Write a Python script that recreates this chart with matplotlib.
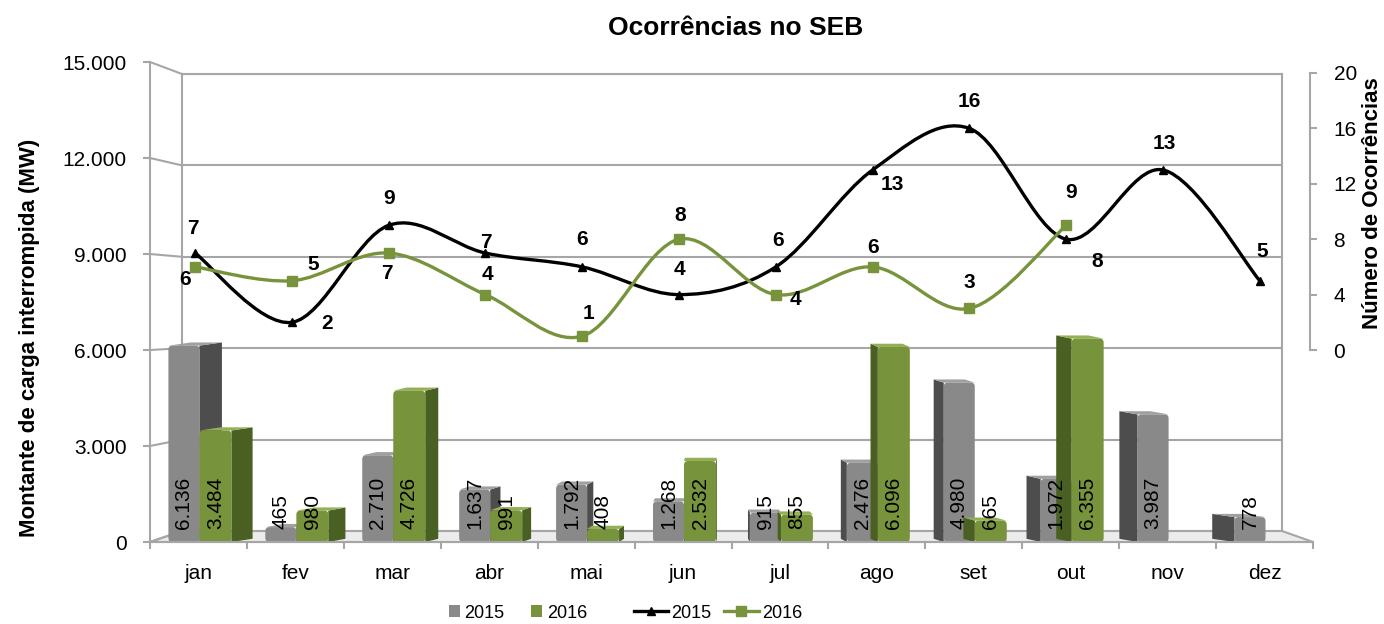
import matplotlib
matplotlib.use("Agg")
import matplotlib.pyplot as plt
import numpy as np
from matplotlib import font_manager
from matplotlib.patches import Polygon, Rectangle, PathPatch, FancyBboxPatch
from matplotlib.path import Path
from matplotlib.lines import Line2D
from matplotlib.ticker import FuncFormatter

months = ["jan", "fev", "mar", "abr", "mai", "jun", "jul", "ago", "set", "out", "nov", "dez"]
carga_2015 = [6136, 465, 2710, 1637, 1792, 1268, 915, 2476, 4980, 1972, 3987, 778]
carga_2016 = [3484, 980, 4726, 991, 408, 2532, 855, 6096, 665, 6355]
ocorr_2015 = [7, 2, 9, 7, 6, 4, 6, 13, 16, 8, 13, 5]
ocorr_2016 = [6, 5, 7, 4, 1, 8, 4, 6, 3, 9]

# where each point label sits relative to its marker (pixels)
off_2015 = [(-2, 25), (35, -1), (0, 27), (0, 11), (0, 27), (0, 25),
            (2, 26), (20, -15), (0, 27), (31, -22), (1, 26), (2, 29)]
off_2016 = [(-10, -13), (21, 16), (-2, -20), (2, 20), (6, 23), (1, 24),
            (20, -5), (0, 19), (0, 26), (5, 33)]

names = {f.name for f in font_manager.fontManager.ttflist}
if "Liberation Sans Narrow" in names:
    plt.rcParams["font.family"] = ["Liberation Sans Narrow", "DejaVu Sans"]
    fs, fs_axis, fs_title, fs_leg = 17, 17.5, 22, 14
else:
    plt.rcParams["font.family"] = ["Liberation Sans", "DejaVu Sans"]
    fs, fs_axis, fs_title, fs_leg = 15, 16, 19, 13

GRID = "#a6a6a6"
GREY, GREY_SIDE, GREY_TOP = "#898989", "#4d4d4d", "#a0a0a0"
GREEN, GREEN_SIDE, GREEN_TOP = "#77933c", "#4a5f22", "#93b055"

W, H = 1384, 624
fig = plt.figure(figsize=(W / 100, H / 100), dpi=100)


def box(x0, y0, x1, y1):
    return [x0 / W, 1 - y1 / H, (x1 - x0) / W, (y1 - y0) / H]


def thousands(v, pos=None):
    return f"{int(v):,}".replace(",", ".")


# back wall with the gridlines
wall = fig.add_axes(box(182, 74, 1282, 531), zorder=0)
wall.set_xlim(0, 1)
wall.set_ylim(0, 15000)
wall.set_yticks(range(0, 15001, 3000))
wall.set_xticks([])
wall.grid(axis="y", color=GRID, lw=1.5)
wall.tick_params(length=0, labelleft=False)
wall.spines["bottom"].set_visible(False)
for s in ["left", "right", "top"]:
    wall.spines[s].set_color(GRID)
    wall.spines[s].set_linewidth(1.5)

# front plane: bars, left axis, months
ax = fig.add_axes(box(150, 62, 1313, 542), zorder=1)
ax.patch.set_visible(False)
ax.set_xlim(0, 12)
ax.set_ylim(0, 15000)
ax.spines["top"].set_visible(False)
ax.spines["right"].set_visible(False)
for s in ["left", "bottom"]:
    ax.spines[s].set_color(GRID)
    ax.spines[s].set_linewidth(1.5)
ax.set_yticks(range(0, 15001, 3000))
ax.yaxis.set_major_formatter(FuncFormatter(thousands))
ax.set_xticks(np.arange(12) + 0.5, months)
ax.set_xticks(range(13), minor=True)
ax.tick_params(axis="y", length=5, color=GRID, width=1.5, pad=12, labelsize=fs)
ax.tick_params(axis="x", which="major", length=0, pad=16, labelsize=fs)
ax.tick_params(axis="x", which="minor", length=5, color=GRID, width=1.5)

to_ax = ax.transData.inverted()
bl = to_ax.transform(wall.transAxes.transform((0, 0)))
br = to_ax.transform(wall.transAxes.transform((1, 0)))
floor = Polygon([(0, 0), (12, 0), br, bl], closed=True, facecolor="#ececec",
                edgecolor=GRID, lw=1.5, zorder=0.5, clip_on=False)
ax.add_patch(floor)
for v in range(0, 15001, 3000):
    xb, yb = to_ax.transform(wall.transData.transform((0, v)))
    ax.plot([0, xb], [v, yb], color=GRID, lw=1.5, clip_on=False, zorder=0.6)

# pseudo-3D columns: the back face leans toward the middle of the chart
k = 0.042
vx = (720 - 150) / 97
depth = 100
px_x = 12 / 1163    # data units per pixel, x
px_y = 15000 / 480  # data units per pixel, y


def column(x0, x1, h, front, side, top):
    dx = k * (vx - (x0 + x1) / 2)
    xe = x1 if dx > 0 else x0
    ax.add_patch(Polygon([(xe, 0), (xe + dx, depth), (xe + dx, h + depth), (xe, h)],
                         closed=True, facecolor=side, edgecolor="none", zorder=2))
    ax.add_patch(Polygon([(x0, h), (x1, h), (x1 + dx, h + depth), (x0 + dx, h + depth)],
                         closed=True, facecolor=top, edgecolor="none", zorder=2))
    r = min(4, h / px_y / 2)
    ax.add_patch(FancyBboxPatch((x0, 0), x1 - x0, h,
                                boxstyle=f"round,pad=0,rounding_size={r * px_x}",
                                mutation_aspect=px_y / px_x,
                                facecolor=front, edgecolor="none", zorder=2))


for i in range(len(months)):
    column(i + 0.19, i + 0.51, carga_2015[i], GREY, GREY_SIDE, GREY_TOP)
    if i < len(carga_2016):
        column(i + 0.51, i + 0.84, carga_2016[i], GREEN, GREEN_SIDE, GREEN_TOP)

for i, v in enumerate(carga_2015):
    ax.text(i + 0.35, 420, thousands(v), rotation=90, ha="center", va="bottom",
            fontsize=fs, zorder=3)
for i, v in enumerate(carga_2016):
    ax.text(i + 0.675, 420, thousands(v), rotation=90, ha="center", va="bottom",
            fontsize=fs, zorder=3)

# secondary axis with the smoothed lines
lax = fig.add_axes(box(150, 73, 1310, 350), zorder=2)
lax.patch.set_visible(False)
lax.set_xlim(-0.465, -0.465 + 1160 / 96.8)
lax.set_ylim(0, 20)
lax.set_xticks([])
lax.yaxis.tick_right()
lax.set_yticks(range(0, 21, 4))
lax.tick_params(axis="y", length=5, color=GRID, width=1.5, pad=12, labelsize=fs)
for s in ["left", "top", "bottom"]:
    lax.spines[s].set_visible(False)
lax.spines["right"].set_color(GRID)
lax.spines["right"].set_linewidth(1.5)


def smooth_path(ys):
    p = np.column_stack([np.arange(len(ys)), ys]).astype(float)
    ext = np.vstack([p[0], p, p[-1]])
    verts, codes = [p[0]], [Path.MOVETO]
    for i in range(len(p) - 1):
        p0, p1, p2, p3 = ext[i], ext[i + 1], ext[i + 2], ext[i + 3]
        verts += [p1 + (p2 - p0) / 6, p2 - (p3 - p1) / 6, p2]
        codes += [Path.CURVE4] * 3
    return Path(verts, codes)


lax.add_patch(PathPatch(smooth_path(ocorr_2015), fill=False, edgecolor="black", lw=2.4,
                        zorder=3, clip_on=False))
lax.add_patch(PathPatch(smooth_path(ocorr_2016), fill=False, edgecolor=GREEN, lw=2.4,
                        zorder=3, clip_on=False))
lax.plot(range(len(ocorr_2015)), ocorr_2015, "^", color="black", ms=6, zorder=4, clip_on=False)
lax.plot(range(len(ocorr_2016)), ocorr_2016, "s", color=GREEN, ms=7, zorder=4, clip_on=False)

for i, v in enumerate(ocorr_2015):
    lax.annotate(str(v), (i, v), xytext=off_2015[i], textcoords="offset pixels",
                 ha="center", va="center", fontsize=fs, fontweight="bold", zorder=5)
for i, v in enumerate(ocorr_2016):
    lax.annotate(str(v), (i, v), xytext=off_2016[i], textcoords="offset pixels",
                 ha="center", va="center", fontsize=fs, fontweight="bold", zorder=5)

fig.text(736 / W, 1 - 28 / H, "Ocorrências no SEB", ha="center", va="center",
         fontsize=fs_title, fontweight="bold")
fig.text(30 / W, 1 - 338 / H, "Montante de carga interrompida (MW)", rotation=90,
         ha="center", va="center", fontsize=fs_axis, fontweight="bold")
fig.text(1373 / W, 1 - 203 / H, "Número de Ocorrências", rotation=90,
         ha="center", va="center", fontsize=fs_axis, fontweight="bold")

# legends: column icons and line icons
bar_handles = [Rectangle((0, 0), 1, 1, facecolor=GREY), Rectangle((0, 0), 1, 1, facecolor=GREEN)]
fig.legend(bar_handles, ["2015", "2016"], loc="center",
           bbox_to_anchor=(518 / W, 1 - 613 / H), ncol=2, frameon=False,
           fontsize=fs_leg, handlelength=0.6, handleheight=0.6,
           handletextpad=0.25, columnspacing=1.5)
line_handles = [Line2D([], [], color="black", lw=2.4, marker="^", ms=6),
                Line2D([], [], color=GREEN, lw=2.4, marker="s", ms=7)]
fig.legend(line_handles, ["2015", "2016"], loc="center",
           bbox_to_anchor=(718 / W, 1 - 613 / H), ncol=2, frameon=False,
           fontsize=fs_leg, handlelength=1.9, handletextpad=0.2, columnspacing=0.7)

fig.savefig("out.png", dpi=100)
